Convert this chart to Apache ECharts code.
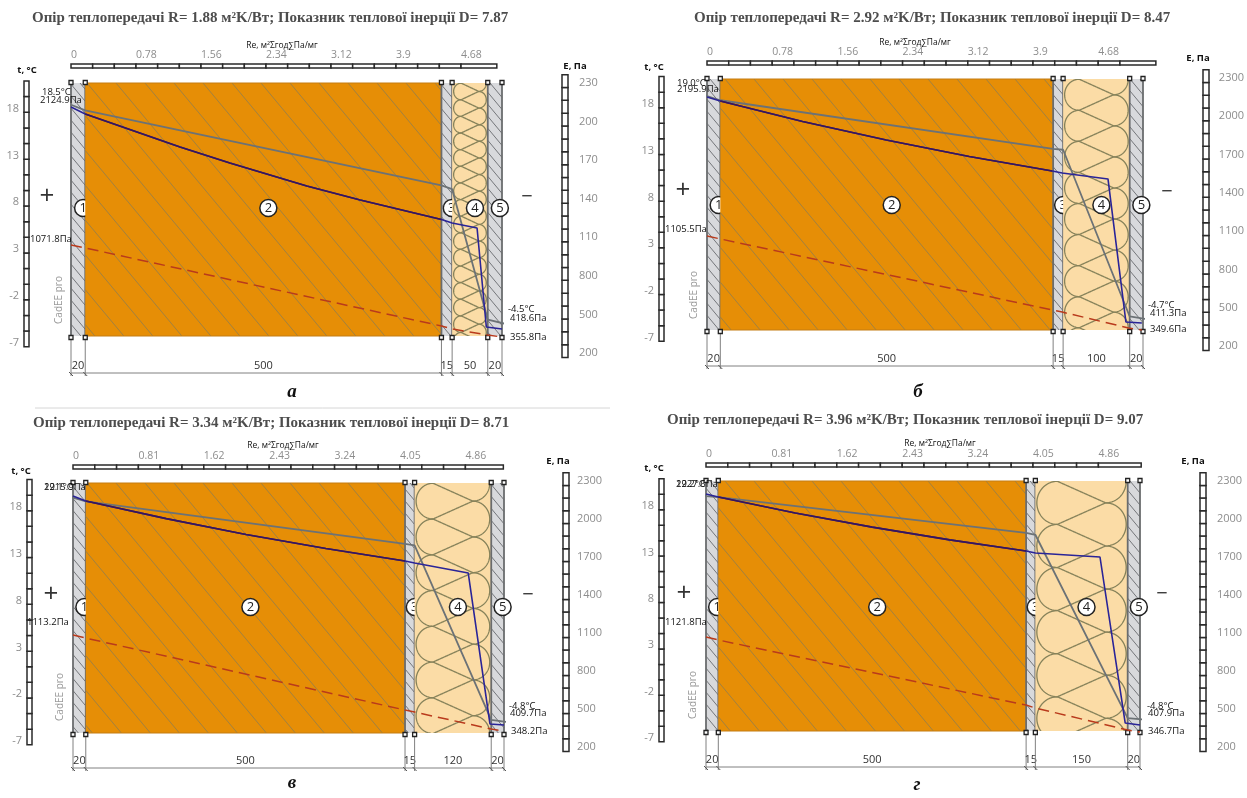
<!DOCTYPE html>
<html><head><meta charset="utf-8">
<style>html,body{margin:0;padding:0;background:#fff}#c{width:1247px;height:798px}</style>
<script src="https://cdn.jsdelivr.net/npm/echarts@6/dist/echarts.min.js"></script>
</head><body><div id="c"></div>
<script>
// ---- data ----
const titleA = 'Опір теплопередачі R= 1.88 м²K/Вт; Показник теплової інерції D= 7.87';
const titleB = 'Опір теплопередачі R= 2.92 м²K/Вт; Показник теплової інерції D= 8.47';
const titleC = 'Опір теплопередачі R= 3.34 м²K/Вт; Показник теплової інерції D= 8.71';
const titleD = 'Опір теплопередачі R= 3.96 м²K/Вт; Показник теплової інерції D= 9.07';

const thicknessA = [20, 500, 15, 50, 20];
const thicknessB = [20, 500, 15, 100, 20];
const thicknessC = [20, 500, 15, 120, 20];
const thicknessD = [20, 500, 15, 150, 20];

const tempTicks = [-7, -2, 3, 8, 13, 18];
const pressureTicks = [200, 500, 800, 1100, 1400, 1700, 2000, 2300];
const pressureLabelsA = ['200', '500', '800', '110', '140', '170', '200', '230'];
const pressureLabelsFull = ['200', '500', '800', '1100', '1400', '1700', '2000', '2300'];
const reLabelsA = ['0', '0.78', '1.56', '2.34', '3.12', '3.9', '4.68'];
const reLabelsC = ['0', '0.81', '1.62', '2.43', '3.24', '4.05', '4.86'];

// temperature polyline (x in mm through the wall, t in °C)
const tempXA = [0, 20, 520, 535, 585, 623];
const tempA  = [18.4, 17.8, 9.8, 9.4, -4.5, -5.2];
const tempXB = [-13, 0, 20, 520, 535, 635, 675];
const tempB  = [19.5, 18.85, 18.4, 13.2, 13.1, -4.75, -5.2];
const tempXC = [-16, 0, 20, 520, 535, 655, 695];
const tempC  = [19.6, 19.0, 18.6, 14.05, 13.9, -4.75, -5.1];
const tempXD = [-18, 0, 20, 520, 535, 685, 726];
const tempD  = [19.7, 19.07, 18.96, 15.1, 14.9, -4.86, -5.08];

// vapour pressure polyline (Pa)
const vapourXA = [0, 20, 153, 223, 331, 406, 520, 535, 570, 583, 605];
const vapourA  = [2113, 2059, 1802, 1678, 1499, 1390, 1239, 1211, 1172, 402, 387];
const vapourXB = [0, 20, 144, 270, 395, 520, 535, 604, 631, 655];
const vapourB  = [2151, 2120, 1959, 1814, 1685, 1571, 1556, 1509, 388, 380];
const vapourXC = [0, 20, 146, 271, 396, 520, 535, 619, 653, 675];
const vapourC  = [2181, 2142, 2003, 1878, 1767, 1668, 1652, 1573, 382, 374];
const vapourXD = [0, 20, 145, 270, 396, 520, 535, 640, 681, 705];
const vapourD  = [2197, 2173, 2048, 1936, 1835, 1747, 1731, 1700, 389, 374];

// dashed saturation curve at layer boundaries (Pa)
const saturationA = [1040, 1017, 410, 387, 340, 324];
const saturationB = [1062, 1039, 482, 466, 341, 325];
const saturationC = [1084, 1060, 492, 476, 342, 326];
const saturationD = [1068, 1045, 531, 508, 334, 318];

// layout (pixels)
const panels = [
 {title:titleA,tx:32,ty:11,cap:'а',cx:292,cy:392,th:thicknessA,tX:tempXA,t:tempA,vX:vapourXA,v:vapourA,s:saturationA,
  L:71,R:502,top:83,bot:336,t18:108.5,t7:343,e23:83,e2:353,tr:24,trw:5,er:562,erw:6,reTop:64,reStep:65,reEnd:5.11,reStepV:.78,reL:reLabelsA,eL:pressureLabelsA,eLX:579,chain:373,circ:208,
  tLab:[27,70],eLab:[575,66],reLab:[282,46],plus:[47,197],minus:[527,197],cad:[59,300],
  notes:[['18.5°C',42,92],['2124.9Па',40,100],['1071.8Па',30,239],['-4.5°C',508,309],['418.6Па',510,318],['355.8Па',510,337]]},
 {title:titleB,tx:694,ty:11,cap:'б',cx:918,cy:392,th:thicknessB,tX:tempXB,t:tempB,vX:vapourXB,v:vapourB,s:saturationB,
  L:707,R:1143,top:79,bot:330,t18:104,t7:337.5,e23:78,e2:346,tr:659,trw:5,er:1203,erw:6,reTop:61,reStep:65.2,reEnd:5.37,reStepV:.78,reL:reLabelsA,eL:pressureLabelsFull,eLX:1220,chain:366,circ:205,
  tLab:[654,67],eLab:[1198,58],reLab:[915,43],plus:[683,191],minus:[1167,192],cad:[694,295],
  notes:[['19.0°C',677,83],['2195.9Па',677,89],['1105.5Па',665,229],['-4.7°C',1148,305],['411.3Па',1150,313],['349.6Па',1150,329]]},
 {title:titleC,tx:33,ty:416,cap:'в',cx:292,cy:783,th:thicknessC,tX:tempXC,t:tempC,vX:vapourXC,v:vapourC,s:saturationC,
  L:73,R:504,top:483,bot:733,t18:507,t7:741,e23:481,e2:747,tr:27,trw:5,er:563,erw:6,reTop:465,reStep:65.4,reEnd:5.33,reStepV:.81,reL:reLabelsC,eL:pressureLabelsFull,eLX:577,chain:768,circ:607,
  tLab:[21,471],eLab:[558,461],reLab:[283,446],plus:[51,595],minus:[528,595],cad:[60,697],
  notes:[['19.1°C',44,487],['2215.9Па',44,487],['1113.2Па',27,622],['-4.8°C',509,706],['409.7Па',510,713],['348.2Па',511,731]]},
 {title:titleD,tx:667,ty:413,cap:'г',cx:917,cy:785,th:thicknessD,tX:tempXD,t:tempD,vX:vapourXD,v:vapourD,s:saturationD,
  L:706,R:1140,top:481,bot:731,t18:506,t7:738,e23:481,e2:747,tr:659,trw:5,er:1200,erw:6,reTop:463,reStep:65.4,reEnd:5.39,reStepV:.81,reL:reLabelsC,eL:pressureLabelsFull,eLX:1217,chain:767,circ:607,
  tLab:[654,468],eLab:[1193,461],reLab:[940,444],plus:[684,594],minus:[1162,594],cad:[693,695],
  notes:[['19.2°C',676,484],['2227.6Па',676,484],['1121.8Па',665,622],['-4.8°C',1147,706],['407.9Па',1148,713],['346.7Па',1148,731]]}
];
const ORANGE='#e68e06', GREY='#d8d9dc', WOOL='#fbdca6';
const zip=(a,b)=>a.map((x,i)=>[x,b[i]]);

function hatch(x0,y0,x1,y1,step,k,col){
  // diagonal lines clipped to a rectangle
  const out=[];
  for(let c=x0-(y1-y0)/k-((x0-(y1-y0)/k)%step); c<x1; c+=step){
    let ax=c, ay=y0, bx=c+(y1-y0)/k, by=y1;
    if(ax<x0){ay=y0+(x0-ax)*k;ax=x0;}
    if(bx>x1){by=y1-(bx-x1)*k;bx=x1;}
    if(ay>=y1||by<=y0||ax>=bx) continue;
    out.push({type:'line',shape:{x1:ax,y1:ay,x2:bx,y2:by},style:{stroke:col,lineWidth:1,fill:null}});
  }
  return out;
}
function woolShape(u){
  // one period of the insulation strand: round end, straight diagonal, round end, diagonal
  const c=.54; u=((u%1)+1)%1;
  if(u<1/6||u>=5/6){const v=(u<1/6?u:u-1)*6;return c+(1-c)*Math.sqrt(Math.max(0,1-v*v));}
  if(u<1/3)return c-2*c*(u-1/6)*6;
  if(u<2/3){const v=(u-.5)*6;return -c-(1-c)*Math.sqrt(Math.max(0,1-v*v));}
  return -c+2*c*(u-2/3)*6;
}
function wool(x0,y0,x1,y1){
  const w=x1-x0,T=w*1.4,A=w/2-1.5,cx=(x0+x1)/2,yc=y0+22*w/93,strands=[];
  for(let s=0;s<3;s++){
    const pts=[];
    for(let y=y0-2;y<=y1+2;y+=.4){
      pts.push([cx+A*woolShape((y-yc)/T+.5-s/3),y]);
    }
    strands.push({type:'polyline',shape:{points:pts},style:{stroke:'#86825a',lineWidth:1.3,fill:null}});
  }
  return {type:'group',clipPath:{type:'rect',shape:{x:x0,y:y0,width:w,height:y1-y0}},children:strands};
}

const opt={animation:false,backgroundColor:'#fff',tooltip:{show:false},title:[],grid:[],xAxis:[],yAxis:[],series:[],
  graphic:{elements:[]}};
const labelFont="'Open Sans',sans-serif";

panels.forEach((p)=>{
  const total=p.th.reduce((a,b)=>a+b,0), cum=[0];
  p.th.forEach(v=>cum.push(cum[cum.length-1]+v));
  // title
  opt.title.push({text:p.title,left:p.tx,top:p.ty,padding:0,textStyle:{fontFamily:"'Liberation Serif',serif",fontWeight:'bold',fontSize:15,color:'#4d4d4d'}});
  // temperature grid
  const gi=opt.grid.length;
  opt.grid.push({left:p.L,width:p.R-p.L,top:p.t18,height:p.t7-p.t18});
  opt.xAxis.push({gridIndex:gi,type:'value',min:0,max:total,show:false});
  opt.yAxis.push({gridIndex:gi,type:'value',min:-7,max:18,interval:5,position:'left',offset:p.L-p.tr+5,
    axisLine:{show:false},axisTick:{show:false},splitLine:{show:false},
    axisLabel:{margin:0,color:'#8d8d8d',fontSize:11,fontFamily:labelFont,align:'right'}});
  // pressure grid
  const ge=gi+1;
  opt.grid.push({left:p.L,width:p.R-p.L,top:p.e23,height:p.e2-p.e23});
  opt.xAxis.push({gridIndex:ge,type:'value',min:0,max:total,show:false});
  opt.yAxis.push({gridIndex:ge,type:'value',min:200,max:2300,interval:300,position:'right',offset:p.eLX-p.R,
    axisLine:{show:false},axisTick:{show:false},splitLine:{show:false},
    axisLabel:{margin:0,color:'#8d8d8d',fontSize:11,fontFamily:labelFont,align:'left',
      formatter:v=>p.eL[pressureTicks.indexOf(v)]}});
  // Re ruler grid
  const gr=gi+2;
  opt.grid.push({left:p.L,width:p.reStep*6,top:p.reTop,height:4});
  opt.xAxis.push({gridIndex:gr,type:'value',min:0,max:p.reStepV*6,interval:p.reStepV,position:'top',
    axisLine:{show:false},axisTick:{show:false},splitLine:{show:false},
    axisLabel:{margin:3,color:'#8d8d8d',fontSize:10.5,fontFamily:labelFont,align:'left',showMinLabel:true,showMaxLabel:true,
      formatter:v=>p.reL[Math.round(v/p.reStepV)]}});
  opt.yAxis.push({gridIndex:gr,type:'value',min:0,max:1,show:false});

  // wall layers
  opt.series.push({type:'custom',xAxisIndex:gi,yAxisIndex:gi,z:1,clip:false,silent:true,
    data:p.th.map((v,i)=>[cum[i],cum[i+1],i]),
    renderItem(params,api){
      const i=api.value(2),x0=api.coord([api.value(0),0])[0],x1=api.coord([api.value(1),0])[0];
      const y0=p.top,y1=p.bot,kids=[];
      const fill=i===1?ORANGE:i===3?WOOL:GREY;
      kids.push({type:'rect',shape:{x:x0,y:y0,width:x1-x0,height:y1-y0},style:{fill}});
      if(i===1){
        kids.push(...hatch(x0,y0,x1,y1,29,1.2,'#a08142'));
        kids.push({type:'line',shape:{x1:x0,y1:y0,x2:x1,y2:y0},style:{stroke:'#c47c12',lineWidth:1}});
        kids.push({type:'line',shape:{x1:x0,y1:y1,x2:x1,y2:y1},style:{stroke:'#c47c12',lineWidth:1}});
      }else if(i===3){
        kids.push(wool(x0,y0,x1,y1));
      }else{
        kids.push(...hatch(x0,y0,x1,y1,10,1.2,'#74767a'));
        [x0,x1].forEach(x=>kids.push({type:'line',shape:{x1:x,y1:y0,x2:x,y2:y1},style:{stroke:'#6a6c6e',lineWidth:1.8}}));
      }
      const cx=(x0+x1)/2+5;
      kids.push({type:'circle',shape:{cx,cy:p.circ,r:8.5},style:{fill:'#fff',stroke:'#222',lineWidth:1.5}});
      kids.push({type:'text',style:{x:cx,y:p.circ,text:String(i+1),fill:'#222',fontSize:13,fontFamily:labelFont,align:'center',verticalAlign:'middle'}});
      return {type:'group',children:kids};
    }});
  // dimension chain and boundary markers
  opt.series.push({type:'custom',xAxisIndex:gi,yAxisIndex:gi,z:2,clip:false,silent:true,
    data:cum.map((v,i)=>[v,i]),
    renderItem(params,api){
      const i=api.value(1),x=api.coord([api.value(0),0])[0],kids=[];
      kids.push({type:'line',shape:{x1:x,y1:p.bot+4,x2:x,y2:p.chain+3},style:{stroke:'#808080',lineWidth:1}});
      kids.push({type:'line',shape:{x1:x-2,y1:p.chain-1,x2:x+2,y2:p.chain+3},style:{stroke:'#555',lineWidth:1}});
      [p.top,p.bot+2].forEach(y=>kids.push({type:'rect',shape:{x:x-2,y:y-2.5,width:4,height:4},style:{fill:'#fff',stroke:'#222',lineWidth:1.3}}));
      if(i<p.th.length){
        const nx=api.coord([cum[i+1],0])[0];
        kids.push({type:'line',shape:{x1:x,y1:p.chain,x2:nx,y2:p.chain},style:{stroke:'#808080',lineWidth:1}});
        kids.push({type:'text',style:{x:(x+nx)/2,y:p.chain-7,text:String(p.th[i]),fill:'#333',fontSize:11,fontFamily:labelFont,align:'center',verticalAlign:'middle'}});
      }
      return {type:'group',children:kids};
    }});
  // rulers: temperature
  const tCells=[];for(let k=0;k<17;k++)tCells.push(-7.4+k*5/3);
  opt.series.push({type:'custom',xAxisIndex:gi,yAxisIndex:gi,z:2,clip:false,silent:true,data:tCells.map(v=>[0,v]),
    renderItem(params,api){
      const a=api.coord([0,api.value(1)])[1],b=api.coord([0,api.value(1)+5/3])[1];
      return {type:'rect',shape:{x:p.tr,y:b,width:p.trw,height:a-b},style:{fill:'#fff',stroke:'#2a2a2a',lineWidth:1.5}};
    }});
  // rulers: pressure
  const eCells=[];for(let k=0;k<22;k++)eCells.push(165+k*100);
  opt.series.push({type:'custom',xAxisIndex:ge,yAxisIndex:ge,z:2,clip:false,silent:true,data:eCells.map(v=>[0,v]),
    renderItem(params,api){
      const a=api.coord([0,api.value(1)])[1],b=api.coord([0,api.value(1)+100])[1];
      return {type:'rect',shape:{x:p.er,y:b,width:p.erw,height:a-b},style:{fill:'#fff',stroke:'#2a2a2a',lineWidth:1.5}};
    }});
  // rulers: Re
  const reCell=p.reStepV/3,reCells=[];for(let v=0;v+reCell<=p.reEnd+1e-6;v+=reCell)reCells.push(v);
  reCells.push(p.reEnd);
  opt.series.push({type:'custom',xAxisIndex:gr,yAxisIndex:gr,z:2,clip:false,silent:true,
    data:reCells.slice(0,-1).map((v,i)=>[v,reCells[i+1]]),
    renderItem(params,api){
      const a=api.coord([api.value(0),0]),b=api.coord([api.value(1),1]);
      return {type:'rect',shape:{x:a[0],y:b[1],width:b[0]-a[0],height:a[1]-b[1]},style:{fill:'#fff',stroke:'#2a2a2a',lineWidth:1.5}};
    }});
  // curves
  opt.series.push({type:'line',name:'t',xAxisIndex:gi,yAxisIndex:gi,z:4,clip:false,silent:true,showSymbol:false,
    data:zip(p.tX,p.t),lineStyle:{color:'#6c7276',width:1.8}});
  opt.series.push({type:'line',name:'E',xAxisIndex:ge,yAxisIndex:ge,z:5,clip:false,silent:true,showSymbol:false,
    data:zip(p.vX,p.v),lineStyle:{color:'#2a2498',width:1.6}});
  opt.series.push({type:'line',name:'E core',xAxisIndex:ge,yAxisIndex:ge,z:5,clip:false,silent:true,showSymbol:false,
    data:zip(p.vX,p.v).filter(d=>d[0]>=20&&d[0]<=520),lineStyle:{color:'#3a1558',width:1.6}});
  opt.series.push({type:'line',name:'Es',xAxisIndex:ge,yAxisIndex:ge,z:5,clip:false,silent:true,showSymbol:false,
    data:zip(cum,p.s),lineStyle:{color:'#b93a1c',width:1.5,type:[11,6]}});

  // free text
  const txt=(s,x,y,style)=>opt.graphic.elements.push({type:'text',x,y,z:20,silent:true,style:Object.assign({text:s,fontFamily:labelFont,fontSize:9.5,fill:'#111',verticalAlign:'middle'},style)});
  p.notes.forEach(n=>txt(n[0],n[1],n[2],{fontSize:9.5}));
  txt('t, °C',p.tLab[0],p.tLab[1],{fontWeight:'bold',fontSize:9.5,align:'center'});
  txt('E, Па',p.eLab[0],p.eLab[1],{fontWeight:'bold',fontSize:9.5,align:'center'});
  txt('Re, м²Σгод∑Па/мг',p.reLab[0],p.reLab[1],{fontSize:8.5,align:'center'});
  txt('+',p.plus[0],p.plus[1],{fontSize:26,align:'center',fill:'#333'});
  txt('−',p.minus[0],p.minus[1],{fontSize:20,align:'center',fill:'#333'});
  opt.graphic.elements.push({type:'text',x:p.cad[0],y:p.cad[1],rotation:Math.PI/2,z:20,silent:true,
    style:{text:'CadEE pro',fontFamily:labelFont,fontSize:10,fill:'#9a9a9a',align:'center',verticalAlign:'middle'}});
  txt(p.cap,p.cx,p.cy,{fontFamily:"'Liberation Serif',serif",fontStyle:'italic',fontWeight:'bold',fontSize:19,align:'center',fill:'#111'});
});
opt.graphic.elements.push({type:'line',shape:{x1:35,y1:408,x2:610,y2:408},style:{stroke:'#d6d6d6',lineWidth:1},silent:true});

echarts.init(document.getElementById('c'),null,{renderer:'canvas'}).setOption(opt);
</script></body></html>
